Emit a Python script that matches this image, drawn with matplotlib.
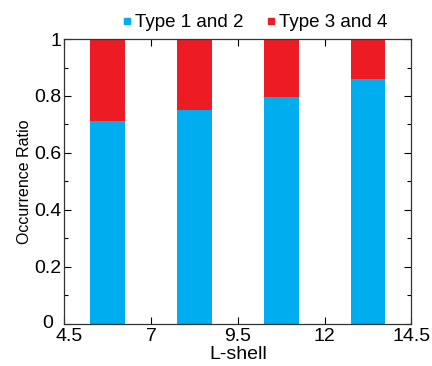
import matplotlib
matplotlib.use("Agg")
import matplotlib.pyplot as plt
from matplotlib.lines import Line2D
from matplotlib.ticker import MultipleLocator
from matplotlib.transforms import ScaledTranslation

plt.rcParams['font.family'] = ['Liberation Sans', 'DejaVu Sans']

l_shell = [5.75, 8.25, 10.75, 13.25]
type12 = [0.713, 0.75, 0.795, 0.86]
type34 = [1 - v for v in type12]
series_labels = ['Type 1 and 2', 'Type 3 and 4']
xticks = [4.5, 7, 9.5, 12, 14.5]
yticks = [0, 0.2, 0.4, 0.6, 0.8, 1]

blue = '#00AEEF'
red = '#ED1C24'

fig = plt.figure(figsize=(4.32, 3.66), dpi=100)
ax = fig.add_axes([0.149, 0.115, 0.8035, 0.7784])

ax.bar(l_shell, type12, width=1.0, color=blue, linewidth=0)
ax.bar(l_shell, type34, width=1.0, bottom=type12, color=red, linewidth=0)

ax.set_xlim(4.5, 14.5)
ax.set_ylim(0, 1)
ax.set_xticks(xticks)
ax.set_xticklabels([str(t) for t in xticks])
ax.set_yticks(yticks)
ax.set_yticklabels(['0', '0.2', '0.4', '0.6', '0.8', '1'])
ax.yaxis.set_minor_locator(MultipleLocator(0.1))
ax.tick_params(which='both', direction='in', top=True, right=True, labelsize=14)
ax.tick_params(axis='y', pad=2)
ax.tick_params(axis='x', pad=3)
ax.tick_params(which='major', length=5, width=0.8)
ax.tick_params(which='minor', length=3, width=0.8)
ax.tick_params(axis='x', which='minor', top=False, bottom=False)
for s in ax.spines.values():
    s.set_linewidth(0.9)
    s.set_color('#333333')

# shift first x tick label right and the "0" y label left/up, as in the reference
xl = ax.get_xticklabels()
xl[0].set_transform(xl[0].get_transform() + ScaledTranslation(0.05, 0, fig.dpi_scale_trans))
yl = ax.get_yticklabels()
yl[0].set_transform(yl[0].get_transform() + ScaledTranslation(-0.08, 0.02, fig.dpi_scale_trans))

ax.set_xlabel('L-shell', fontsize=14, labelpad=1)
ax.set_ylabel('Occurrence Ratio', fontsize=11.5)
ax.yaxis.set_label_coords(-0.094, 0.5)

handles = [Line2D([], [], marker='s', linestyle='none', color=blue, markersize=5),
           Line2D([], [], marker='s', linestyle='none', color=red, markersize=5)]
ax.legend(handles, series_labels, loc='lower center', bbox_to_anchor=(0.543, 0.995),
          ncol=2, frameon=False, fontsize=13.5, handletextpad=0.0, columnspacing=1.0,
          handlelength=0.9, borderaxespad=0.1)

fig.savefig('out.png', dpi=100)
